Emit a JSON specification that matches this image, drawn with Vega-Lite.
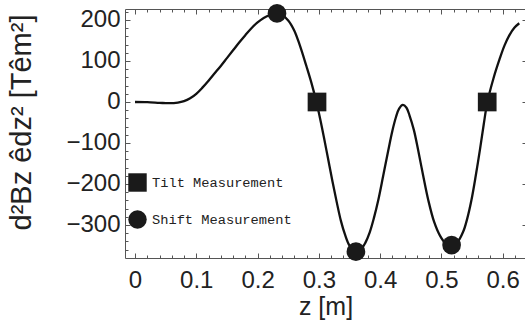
{
  "$schema": "https://vega.github.io/schema/vega-lite/v6.json",
  "width": 401,
  "height": 249,
  "autosize": {"type": "none"},
  "padding": {"left": 125, "top": 9, "right": 0, "bottom": 67},
  "background": "white",
  "config": {
    "view": {"stroke": null},
    "axis": {
      "domainColor": "#555555",
      "domainWidth": 1,
      "tickColor": "#555555",
      "tickWidth": 1,
      "grid": false,
      "labelFont": "Liberation Sans",
      "labelFontSize": 24,
      "labelColor": "#222222",
      "titleFont": "Liberation Sans",
      "titleFontSize": 24,
      "titleFontWeight": "normal",
      "titleColor": "#222222",
      "labelOverlap": false,
      "labelFlush": false
    }
  },
  "datasets": {
    "curve": [
      {"z": 0, "v": 0}, {"z": 0.02, "v": -0.5}, {"z": 0.04, "v": -2}, {"z": 0.055, "v": -3},
      {"z": 0.07, "v": -1.5}, {"z": 0.08, "v": 2}, {"z": 0.09, "v": 9}, {"z": 0.10, "v": 20},
      {"z": 0.11, "v": 35}, {"z": 0.12, "v": 52}, {"z": 0.13, "v": 70}, {"z": 0.14, "v": 88},
      {"z": 0.15, "v": 107}, {"z": 0.16, "v": 126}, {"z": 0.17, "v": 145}, {"z": 0.18, "v": 163},
      {"z": 0.19, "v": 180}, {"z": 0.20, "v": 194}, {"z": 0.21, "v": 205}, {"z": 0.22, "v": 212},
      {"z": 0.232, "v": 215}, {"z": 0.24, "v": 212}, {"z": 0.25, "v": 199}, {"z": 0.26, "v": 174},
      {"z": 0.269, "v": 138}, {"z": 0.28, "v": 86}, {"z": 0.288, "v": 46}, {"z": 0.296, "v": 0},
      {"z": 0.302, "v": -40}, {"z": 0.308, "v": -84}, {"z": 0.315, "v": -138}, {"z": 0.322, "v": -192},
      {"z": 0.329, "v": -243}, {"z": 0.336, "v": -290}, {"z": 0.3426, "v": -323}, {"z": 0.35, "v": -350},
      {"z": 0.3605, "v": -366}, {"z": 0.37, "v": -357}, {"z": 0.376, "v": -343}, {"z": 0.383, "v": -318},
      {"z": 0.39, "v": -282}, {"z": 0.397, "v": -239}, {"z": 0.405, "v": -180}, {"z": 0.413, "v": -120},
      {"z": 0.42, "v": -70}, {"z": 0.426, "v": -36}, {"z": 0.431, "v": -16}, {"z": 0.437, "v": -7},
      {"z": 0.443, "v": -14}, {"z": 0.448, "v": -33}, {"z": 0.455, "v": -68}, {"z": 0.462, "v": -117},
      {"z": 0.47, "v": -178}, {"z": 0.4785, "v": -239}, {"z": 0.488, "v": -292}, {"z": 0.4976, "v": -326},
      {"z": 0.507, "v": -345}, {"z": 0.5166, "v": -350}, {"z": 0.526, "v": -342}, {"z": 0.5356, "v": -316},
      {"z": 0.542, "v": -285}, {"z": 0.549, "v": -239}, {"z": 0.556, "v": -180}, {"z": 0.563, "v": -115},
      {"z": 0.569, "v": -55}, {"z": 0.575, "v": 0}, {"z": 0.585, "v": 58}, {"z": 0.595, "v": 105},
      {"z": 0.603, "v": 138}, {"z": 0.611, "v": 163}, {"z": 0.619, "v": 181}, {"z": 0.627, "v": 192}
    ],
    "markers": [
      {"z": 0.297, "v": 0, "type": "Tilt Measurement"},
      {"z": 0.5747, "v": 0, "type": "Tilt Measurement"},
      {"z": 0.2317, "v": 216, "type": "Shift Measurement"},
      {"z": 0.3605, "v": -365, "type": "Shift Measurement"},
      {"z": 0.5166, "v": -349, "type": "Shift Measurement"}
    ]
  },
  "layer": [
    {
      "mark": {"type": "rule", "color": "#2b2b9a", "strokeWidth": 1},
      "encoding": {
        "y": {"datum": 0, "type": "quantitative", "axis": null, "scale": {"domain": [-380.5, 226.8], "nice": false, "zero": false}}
      }
    },
    {
      "data": {"name": "curve"},
      "mark": {"type": "line", "color": "#111111", "strokeWidth": 2.3, "interpolate": "catmull-rom"},
      "encoding": {
        "x": {
          "field": "z", "type": "quantitative",
          "scale": {"domain": [-0.0163, 0.638], "nice": false, "zero": false},
          "axis": {
            "orient": "bottom",
            "title": "z [m]",
            "titleFontSize": 25,
            "titlePadding": 0,
            "values": [0, 0.02, 0.04, 0.06, 0.08, 0.1, 0.12, 0.14, 0.16, 0.18, 0.2, 0.22, 0.24, 0.26, 0.28, 0.3, 0.32, 0.34, 0.36, 0.38, 0.4, 0.42, 0.44, 0.46, 0.48, 0.5, 0.52, 0.54, 0.56, 0.58, 0.6, 0.62],
            "labelExpr": "abs(datum.value*10 - round(datum.value*10)) < 0.001 ? (datum.value == 0 ? '0' : format(datum.value, '.1f')) : ''",
            "tickSize": {"condition": {"test": "abs(datum.value*10 - round(datum.value*10)) < 0.001", "value": -5}, "value": -3},
            "labelPadding": 15
          }
        },
        "y": {
          "field": "v", "type": "quantitative",
          "scale": {"domain": [-380.5, 226.8], "nice": false, "zero": false},
          "axis": {
            "orient": "left",
            "title": "d²Bz êdz² [Têm²]",
            "titleFontSize": 29,
            "titleX": -89,
            "titleY": 113,
            "values": [-360, -340, -320, -300, -280, -260, -240, -220, -200, -180, -160, -140, -120, -100, -80, -60, -40, -20, 0, 20, 40, 60, 80, 100, 120, 140, 160, 180, 200, 220],
            "labelExpr": "datum.value % 100 == 0 ? (datum.value < 0 ? '\u2212' + abs(datum.value) : '' + datum.value) : ''",
            "tickSize": {"condition": {"test": "datum.value % 100 == 0", "value": -5}, "value": -3},
            "labelPadding": 10
          }
        }
      }
    },
    {
      "data": {"name": "markers"},
      "mark": {"type": "point", "filled": true, "color": "#1a1a1a", "opacity": 1, "size": 350},
      "encoding": {
        "x": {
          "field": "z", "type": "quantitative",
          "scale": {"domain": [-0.0163, 0.638], "nice": false, "zero": false},
          "axis": {
            "orient": "top", "title": null, "labels": false,
            "values": [0, 0.02, 0.04, 0.06, 0.08, 0.1, 0.12, 0.14, 0.16, 0.18, 0.2, 0.22, 0.24, 0.26, 0.28, 0.3, 0.32, 0.34, 0.36, 0.38, 0.4, 0.42, 0.44, 0.46, 0.48, 0.5, 0.52, 0.54, 0.56, 0.58, 0.6, 0.62],
            "tickSize": {"condition": {"test": "abs(datum.value*10 - round(datum.value*10)) < 0.001", "value": -5}, "value": -3}
          }
        },
        "y": {
          "field": "v", "type": "quantitative",
          "scale": {"domain": [-380.5, 226.8], "nice": false, "zero": false},
          "axis": {
            "orient": "right", "title": null, "labels": false,
            "values": [-300, -200, -100, 0, 100, 200],
            "tickSize": -4
          }
        },
        "shape": {
          "field": "type", "type": "nominal",
          "scale": {"domain": ["Tilt Measurement", "Shift Measurement"], "range": ["square", "circle"]},
          "legend": {
            "title": null,
            "orient": "none",
            "legendX": 3,
            "legendY": 164,
            "symbolSize": 340,
            "symbolFillColor": "#1a1a1a",
            "symbolStrokeColor": "#1a1a1a",
            "symbolStrokeWidth": 0,
            "labelFont": "Liberation Mono",
            "labelFontSize": 13.7,
            "labelColor": "#222222",
            "labelOffset": 5,
            "rowPadding": 18,
            "padding": 0
          }
        }
      }
    }
  ],
  "resolve": {"axis": {"x": "independent", "y": "independent"}}
}
